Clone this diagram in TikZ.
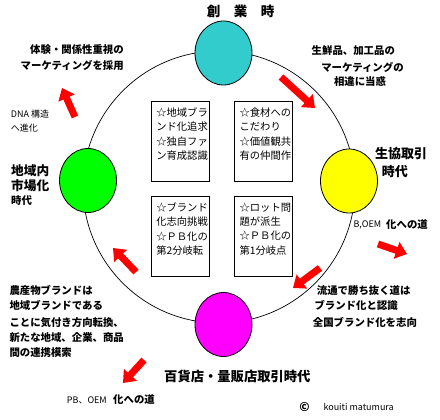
\documentclass[tikz,border=0pt]{standalone}
\usepackage{fontspec}
\setmainfont{Noto Sans CJK JP}
\usetikzlibrary{shapes.geometric,arrows.meta}
\definecolor{teal1}{HTML}{33CCCC}
\definecolor{yel1}{HTML}{FFFF00}
\definecolor{grn1}{HTML}{00FF00}
\definecolor{mag1}{HTML}{FF00FF}
\definecolor{red1}{HTML}{FF0000}
\tikzset{
  ring/.style={circle,draw=black,line width=0.7pt,minimum size=272pt,inner sep=0pt},
  stage/.style={ellipse,draw=black,line width=0.8pt,minimum width=57pt,minimum height=64pt,inner sep=0pt},
  infobox/.style={draw=black,line width=0.8pt,minimum width=58pt,minimum height=80pt,inner sep=0pt},
  boxtext/.style={anchor=north west,inner sep=0pt,align=left,font=\fontsize{10.3}{14.3}\selectfont},
  lbl/.style={inner sep=0pt,font=\bfseries\fontsize{10.4}{12}\selectfont},
  biglbl/.style={inner sep=0pt,font=\bfseries\fontsize{13}{15}\selectfont},
  small/.style={inner sep=0pt,font=\fontsize{9}{11}\selectfont},
  redarrow/.style={draw=red1,line width=7pt,-{Triangle[length=11pt,width=17pt]}},
}
\begin{document}
\begin{tikzpicture}[x=1pt,y=-1pt]
\useasboundingbox (0,0) rectangle (440,420);
\node[ring] (ring) at (219,187) {};
\node[stage,fill=teal1] (c1) at (223.5,53) {};
\node[stage,fill=yel1] (c2) at (349,181) {};
\node[stage,fill=grn1] (c3) at (88,180.5) {};
\node[stage,fill=mag1] (c4) at (223.5,324.5) {};

\node[infobox] (b1) at (180,141) {};
\node[infobox] (b2) at (263.3,141) {};
\node[infobox] (b3) at (180,236) {};
\node[infobox] (b4) at (263.3,236) {};
\node[boxtext] (t1) at ([xshift=5.5pt,yshift=-7pt]b1.north west) {☆地域ブラ\\ンド化追求\\☆独自ファ\\ン育成認識};
\node[boxtext] (t2) at ([xshift=5.5pt,yshift=-7pt]b2.north west) {☆食材への\\こだわり\\☆価値観共\\有の仲間作};
\node[boxtext] (t3) at ([xshift=5.5pt,yshift=-7pt]b3.north west) {☆ブランド\\化志向挑戦\\☆ＰＢ化の\\第2分岐転};
\node[boxtext] (t4) at ([xshift=5.5pt,yshift=-7pt]b4.north west) {☆ロット問\\題が派生\\☆ＰＢ化の\\第1分岐点};

% labels
\node[biglbl,font=\bfseries\fontsize{13.5}{15}\selectfont] (l1) at (240.5,11) {創　業　時};
\node[lbl,anchor=east] (l2) at (124,50) {体験・関係性重視の};
\node[lbl,anchor=east] (l3) at (124,65.7) {マーケティングを採用};
\node[small,anchor=west] (l4) at (10.7,114) {DNA 構造};
\node[small,anchor=west] (l5) at (10.7,127.7) {へ進化};
\node[biglbl,font=\bfseries\fontsize{12.7}{15}\selectfont,anchor=west] (l6) at (11,170.7) {地域内};
\node[biglbl,font=\bfseries\fontsize{12.7}{15}\selectfont,anchor=west] (l7) at (11,185.7) {市場化};
\node[lbl,anchor=west] (l8) at (11,200.7) {時代};
\node[lbl] (l9) at (353.3,51) {生鮮品、加工品の};
\node[lbl] (l10) at (362.5,67.7) {マーケティングの};
\node[lbl] (l11) at (360,81.7) {相違に当惑};
\node[biglbl,anchor=west] (l12) at (375,153.3) {生協取引};
\node[biglbl,anchor=west] (l13) at (381.7,171.7) {時代};
\node[small,anchor=west] (l14) at (353.3,225) {B,OEM};
\node[lbl,anchor=west] (l15) at (386,225) {化への道};
\node[lbl,anchor=west] (l16) at (316.7,291) {流通で勝ち抜く道は};
\node[lbl,anchor=west] (l17) at (314.3,305) {ブランド化と認識};
\node[lbl,anchor=west] (l18) at (312.7,322.3) {全国ブランド化を志向};
\node[lbl,anchor=west] (l19) at (9.3,290) {農産物ブランドは};
\node[lbl,anchor=west] (l20) at (9.3,305) {地域ブランドである};
\node[lbl,anchor=west] (l21) at (9.3,322.3) {ことに気付き方向転換、};
\node[lbl,anchor=west] (l22) at (9.3,337.3) {新たな地域、企業、商品};
\node[lbl,anchor=west] (l23) at (9.3,352.7) {間の連携模索};
\node[biglbl,font=\bfseries\fontsize{13.3}{15}\selectfont,anchor=west] (l24) at (164,376.7) {百貨店・量販店取引時代};
\node[small,anchor=west] (l25) at (66.7,400) {PB、OEM};
\node[lbl,anchor=west] (l26) at (113,400) {化への道};
\node[inner sep=0pt,font=\bfseries\fontsize{12}{13}\selectfont] (l27) at (304.5,406.7) {©};
\node[small,anchor=west] (l28) at (323.3,406.7) {kouiti matumura};

% red arrows
\coordinate (a1s) at (75,117); \coordinate (a1e) at (62,88);
\coordinate (a2s) at (281,77); \coordinate (a2e) at (315,108);
\coordinate (a3s) at (378,244); \coordinate (a3e) at (407,254);
\coordinate (a4s) at (320,268); \coordinate (a4e) at (293,288);
\coordinate (a5s) at (144,360); \coordinate (a5e) at (123,383);
\coordinate (a6s) at (136,272); \coordinate (a6e) at (113,248);
\draw[redarrow] (a1s) -- (a1e);
\draw[redarrow] (a2s) -- (a2e);
\draw[redarrow] (a3s) -- (a3e);
\draw[redarrow] (a4s) -- (a4e);
\draw[redarrow] (a5s) -- (a5e);
\draw[redarrow] (a6s) -- (a6e);
\end{tikzpicture}
\end{document}
